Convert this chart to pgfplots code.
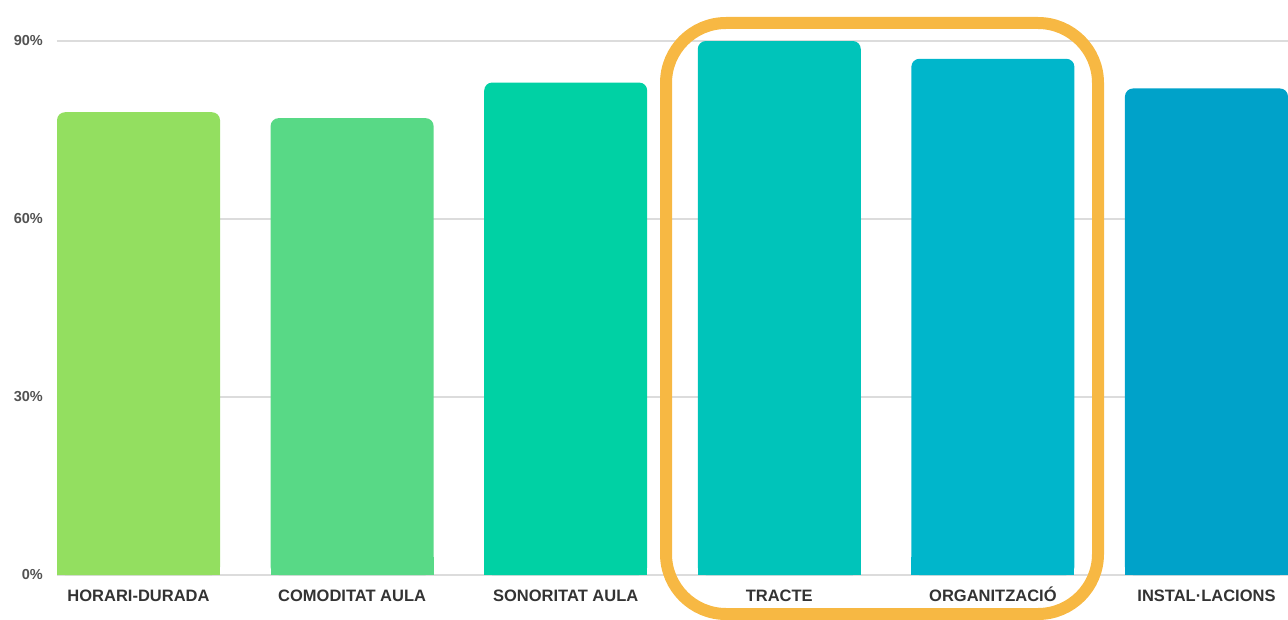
\documentclass[border=0pt]{standalone}
\usepackage{pgfplots}
\pgfplotsset{compat=1.18}
\usepackage{fontspec}
\setmainfont{Liberation Sans}
\definecolor{c1}{HTML}{93DF60}
\definecolor{c2}{HTML}{58D986}
\definecolor{c3}{HTML}{00D1A4}
\definecolor{c4}{HTML}{00C4BA}
\definecolor{c5}{HTML}{00B6CB}
\definecolor{c6}{HTML}{00A2C9}
\definecolor{hl}{HTML}{F7B843}
\definecolor{gridc}{HTML}{DCDCDC}
\definecolor{txt}{HTML}{333333}
\newcommand\mybar[3]{%
  \addplot[fill=#3, draw=none, rounded corners=8pt] coordinates {(#1,#2)};
  \addplot[fill=#3, draw=none] coordinates {(#1,3)};
}
\begin{document}
\begin{tikzpicture}
\begin{axis}[
  scale only axis,
  width=1231pt, height=534pt,
  xmin=-0.3816, xmax=5.3816,
  ymin=0, ymax=90,
  enlarge y limits=false,
  ybar, bar width=163pt, bar shift=0pt,
  clip=false,
  axis line style={draw=none},
  major tick length=0pt,
  xtick={0,1,2,3,4,5},
  xticklabels={HORARI-DURADA, COMODITAT AULA, SONORITAT AULA, TRACTE, ORGANITZACIÓ, INSTAL·LACIONS},
  ytick={0,30,60,90},
  yticklabels={0\%,30\%,60\%,90\%},
  ymajorgrids,
  grid style={draw=gridc, line width=1.6pt},
  /pgf/number format/assume math mode=true,
  xticklabel style={font=\bfseries\fontsize{16.5}{19}\selectfont, text=txt, anchor=base, yshift=-26pt},
  yticklabel style={font=\bfseries\fontsize{14.5}{17}\selectfont, text=txt!85, anchor=east, inner sep=0pt, xshift=-14pt},
]
\mybar{0}{78}{c1}
\mybar{1}{77}{c2}
\mybar{2}{83}{c3}
\mybar{3}{90}{c4}
\mybar{4}{87}{c5}
\mybar{5}{82}{c6}
\end{axis}
\draw[hl, line width=12pt, rounded corners=60pt] (609pt,-39pt) rectangle (1041pt,552pt);
\pgfresetboundingbox
\path[use as bounding box] (-57pt,-44pt) rectangle (1231pt,575pt);
\end{tikzpicture}
\end{document}
